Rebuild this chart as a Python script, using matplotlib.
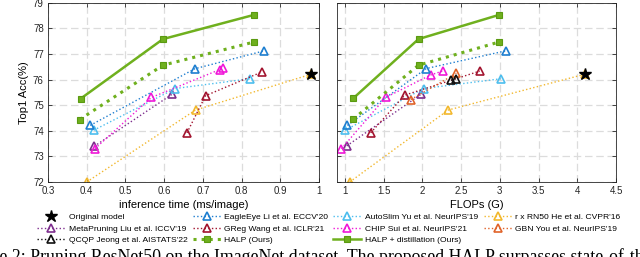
import matplotlib
matplotlib.use("Agg")
import matplotlib.pyplot as plt

plt.rcParams['font.family'] = ['Liberation Sans', 'DejaVu Sans']

# ---------------- data ----------------
# inference time (ms/image) vs Top1 acc
star_lat = [0.980]; star_lat_acc = [76.21]
eagle_lat = [0.409, 0.679, 0.858]; eagle_lat_acc = [74.21, 76.42, 77.12]
autoslim_lat = [0.418, 0.629, 0.821]; autoslim_lat_acc = [74.02, 75.65, 76.03]
rxrn_lat = [0.400, 0.681, 0.980]; rxrn_lat_acc = [72.00, 74.81, 76.21]
meta_lat = [0.419, 0.621]; meta_lat_acc = [73.39, 75.43]
greg_lat = [0.659, 0.707, 0.853]; greg_lat_acc = [73.92, 75.37, 76.30]
chip_lat = [0.421, 0.567, 0.744, 0.753]; chip_lat_acc = [73.30, 75.30, 76.39, 76.44]
halp_lat = [0.382, 0.597, 0.831]; halp_lat_acc = [74.44, 76.56, 77.46]
halpd_lat = [0.384, 0.597, 0.831]; halpd_lat_acc = [75.25, 77.58, 78.52]

# FLOPs (G) vs Top1 acc
star_fl = [4.10]; star_fl_acc = [76.21]
eagle_fl = [1.034, 2.052, 3.077]; eagle_fl_acc = [74.21, 76.43, 77.12]
autoslim_fl = [1.004, 2.020, 3.013]; autoslim_fl_acc = [74.02, 75.65, 76.03]
rxrn_fl = [1.064, 2.335, 4.10]; rxrn_fl_acc = [72.00, 74.81, 76.21]
meta_fl = [1.026, 1.987]; meta_fl_acc = [73.41, 75.43]
greg_fl = [1.335, 1.773, 2.742]; greg_fl_acc = [73.92, 75.39, 76.33]
chip_fl = [0.957, 1.527, 2.110, 2.270]; chip_fl_acc = [73.30, 75.30, 76.18, 76.34]
gbn_fl = [1.853, 2.440]; gbn_fl_acc = [75.22, 76.24]
qcqp_fl = [2.373, 2.430]; qcqp_fl_acc = [75.97, 76.04]
halp_fl = [1.107, 1.952, 2.986]; halp_fl_acc = [74.45, 76.56, 77.46]
halpd_fl = [1.107, 1.952, 2.986]; halpd_fl_acc = [75.26, 77.58, 78.52]

labels = ["Original model", "MetaPruning Liu et al. ICCV'19", "QCQP Jeong et al. AISTATS'22",
          "EagleEye Li et al. ECCV'20", "GReg Wang et al. ICLR'21", "HALP (Ours)",
          "AutoSlim Yu et al. NeurIPS'19", "CHIP Sui et al. NeurIPS'21", "HALP + distillation (Ours)",
          "r x RN50 He et al. CVPR'16", "GBN You et al. NeurIPS'19"]

caption = 'Figure 2: Pruning ResNet50 on the ImageNet dataset. The proposed HALP surpasses state-of-the-art methods'

C_BLUE = '#1f7fd0'; C_LBLUE = '#4dbeee'; C_YEL = '#f2b82e'; C_PUR = '#7e2f8e'
C_RED = '#a2142f'; C_MAG = '#f018d8'; C_ORG = '#e0632a'; C_GRN = '#6fb01e'; C_BLK = '#111111'

fig = plt.figure(figsize=(6.4, 2.57), dpi=100)
axL = fig.add_axes([48/640, 75/257, 271/640, 179.3/257])
axR = fig.add_axes([337/640, 75/257, 279/640, 179.3/257])

def tri(ax, x, y, c, lw=1.0):
    return ax.plot(x, y, linestyle=':', color=c, lw=lw, marker='^', ms=5.5,
                   mfc='none', mec=c, mew=1.2)[0]

handles = {}
for ax, d in [(axL, 'lat'), (axR, 'fl')]:
    g = globals()
    if d == 'fl':
        handles['rxrn'] = tri(ax, g['rxrn_fl'], g['rxrn_fl_acc'], C_YEL)
        handles['meta'] = tri(ax, g['meta_fl'], g['meta_fl_acc'], C_PUR)
        handles['autoslim'] = tri(ax, g['autoslim_fl'], g['autoslim_fl_acc'], C_LBLUE)
        handles['greg'] = tri(ax, g['greg_fl'], g['greg_fl_acc'], C_RED)
        handles['gbn'] = tri(ax, g['gbn_fl'], g['gbn_fl_acc'], C_ORG)
        handles['chip'] = tri(ax, g['chip_fl'], g['chip_fl_acc'], C_MAG)
        handles['qcqp'] = tri(ax, g['qcqp_fl'], g['qcqp_fl_acc'], C_BLK)
        handles['eagle'] = tri(ax, g['eagle_fl'], g['eagle_fl_acc'], C_BLUE)
    else:
        tri(ax, g['rxrn_lat'], g['rxrn_lat_acc'], C_YEL)
        tri(ax, g['meta_lat'], g['meta_lat_acc'], C_PUR)
        tri(ax, g['autoslim_lat'], g['autoslim_lat_acc'], C_LBLUE)
        tri(ax, g['greg_lat'], g['greg_lat_acc'], C_RED)
        tri(ax, g['chip_lat'], g['chip_lat_acc'], C_MAG)
        tri(ax, g['eagle_lat'], g['eagle_lat_acc'], C_BLUE)
    h1 = ax.plot(g['halp_' + d], g['halp_' + d + '_acc'], linestyle=':', color=C_GRN, lw=2.2,
                 marker='s', ms=4.5, mfc=C_GRN, mec='#5a9a10', mew=0.8)[0]
    h2 = ax.plot(g['halpd_' + d], g['halpd_' + d + '_acc'], linestyle='-', color=C_GRN, lw=1.8,
                 marker='s', ms=4.5, mfc=C_GRN, mec='#5a9a10', mew=0.8)[0]
    hs = ax.plot(g['star_' + d], g['star_' + d + '_acc'], linestyle='none', marker='*', ms=9,
                 color='black', zorder=5)[0]
    handles['halp'] = h1; handles['halpd'] = h2; handles['star'] = hs

for ax in (axL, axR):
    ax.set_ylim(72, 79)
    ax.set_yticks(range(72, 80))
    ax.grid(True, color='#dcdcdc', linestyle=(0, (6, 3)), lw=0.9)
    ax.set_axisbelow(True)
    ax.tick_params(direction='in', length=3, width=0.6, top=True, right=True,
                   labelsize=7, colors='#262626', pad=3)
    for s in ax.spines.values():
        s.set_color('#262626'); s.set_linewidth(0.6)

axL.set_xlim(0.3, 1.0)
axL.set_xticks([0.3, 0.4, 0.5, 0.6, 0.7, 0.8, 0.9, 1.0])
axL.set_xticklabels(['0.3', '0.4', '0.5', '0.6', '0.7', '0.8', '0.9', '1'])
axL.set_ylabel('Top1 Acc(%)', fontsize=8, labelpad=3)
axL.set_xlabel('inference time (ms/image)', fontsize=8, labelpad=3)

axR.set_xlim(0.9, 4.5)
axR.set_xticks([1, 1.5, 2, 2.5, 3, 3.5, 4, 4.5])
axR.set_xticklabels(['1', '1.5', '2', '2.5', '3', '3.5', '4', '4.5'])
axR.tick_params(labelleft=False)
axR.set_xlabel('FLOPs (G)', fontsize=8, labelpad=3)

order = ['star', 'meta', 'qcqp', 'eagle', 'greg', 'halp', 'autoslim', 'chip', 'halpd', 'rxrn', 'gbn']
fig.legend([handles[k] for k in order], labels, ncol=4, loc='upper left',
           bbox_to_anchor=(37/640, 1 - 213/257), frameon=False, fontsize=6.1,
           handlelength=3.3, handletextpad=0.45, columnspacing=0.6, labelspacing=0.45,
           borderpad=0, borderaxespad=0)

fig.text(-0.061, 1 - 248/257, caption,
         family=['Liberation Serif', 'DejaVu Serif'], fontsize=12.8, va='top', ha='left', color='black')

fig.savefig('out.png', dpi=100)
